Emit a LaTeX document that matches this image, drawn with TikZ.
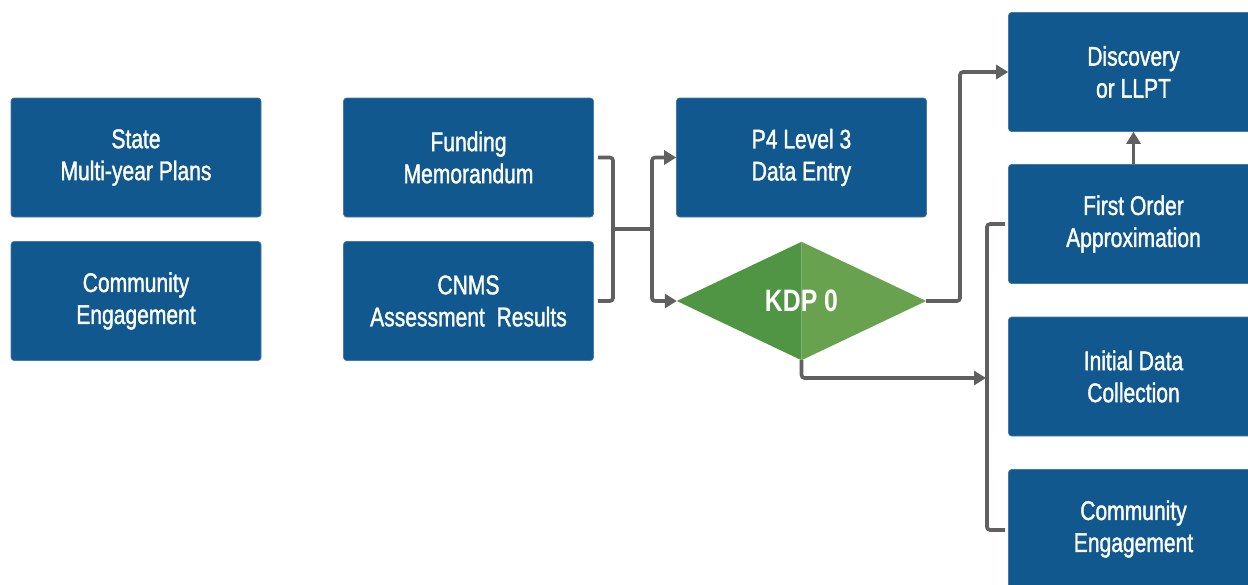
\documentclass[tikz,border=0pt]{standalone}
\usepackage{fontspec}
\setmainfont{Liberation Sans}[FakeStretch=0.78,FakeBold=1.3]
\newfontfamily\kdpfont{Liberation Sans Bold}[FakeStretch=0.8]
\usetikzlibrary{arrows.meta,shapes.geometric}
\definecolor{boxblue}{RGB}{16,88,141}
\definecolor{boxedge}{RGB}{70,120,170}
\definecolor{kdpdark}{RGB}{80,149,68}
\definecolor{kdplight}{RGB}{104,162,78}
\definecolor{linegray}{RGB}{96,96,96}
\tikzset{
  box/.style={rectangle, rounded corners=3pt, fill=boxblue, draw=boxedge, line width=0.6pt,
    minimum width=250pt, minimum height=119pt, inner sep=0pt, align=center,
    text=white, font=\fontsize{27}{32}\selectfont},
  conn/.style={draw=linegray, line width=3.6pt, rounded corners=3pt},
  arr/.style={conn, -{Triangle[length=12pt,width=14pt]}},
}
\begin{document}
\begin{tikzpicture}[x=1pt,y=-1pt]
\useasboundingbox[fill=white] (0,0) rectangle (1248,584);
\node[box] (state) at (136,157.5) {State\\Multi-year Plans};
\node[box] (comml) at (136,301) {Community\\Engagement};
\node[box] (fund) at (468.5,157.5) {Funding\\Memorandum};
\node[box] (cnms) at (468.5,301) {CNMS\\Assessment~~Results};
\node[box] (p4) at (801.5,157.5) {P4 Level 3\\Data Entry};
\node[box] (disc) at (1133.5,72) {Discovery\\or LLPT};
\node[box] (first) at (1133.5,224) {First Order\\Approximation};
\node[box] (init) at (1133.5,376.5) {Initial Data\\Collection};
\node[box] (commr) at (1133.5,529) {Community\\Engagement};
\node[diamond, minimum width=249pt, minimum height=118pt, inner sep=0pt, aspect=2.1] (kdp) at (801.5,301) {};
\fill[kdpdark] (kdp.north) -- (kdp.west) -- (kdp.south) -- cycle;
\fill[kdplight] (kdp.north) -- (kdp.east) -- (kdp.south) -- cycle;
\node[text=white, font=\fontsize{31}{34}\kdpfont] (kdptext) at (kdp.center) {KDP 0};
% bracket from funding/cnms
\coordinate (j1) at (613,229);
\coordinate (j2) at (652,229);
\draw[conn] ([xshift=4pt]fund.east) -| (j1) |- ([xshift=4pt]cnms.east);
\draw[conn] (j1) -- (j2);
\draw[arr] (j2) |- (p4.west);
\draw[arr] (j2) |- (kdp.west);
% kdp to discovery
\coordinate (k1) at (960,301);
\draw[arr] (kdp.east) -- (k1) |- (disc.west);
% kdp down to right bracket
\coordinate (rb) at (986,378);
\draw[arr] (kdp.south) |- (rb);
\coordinate (b1) at (1005,224);
\coordinate (b2) at (1005,530);
\draw[conn] (b1) -| (987,378) |- (b2);
% first order up to discovery
\draw[arr] (first.north) -- (disc.south);
\end{tikzpicture}
\end{document}
